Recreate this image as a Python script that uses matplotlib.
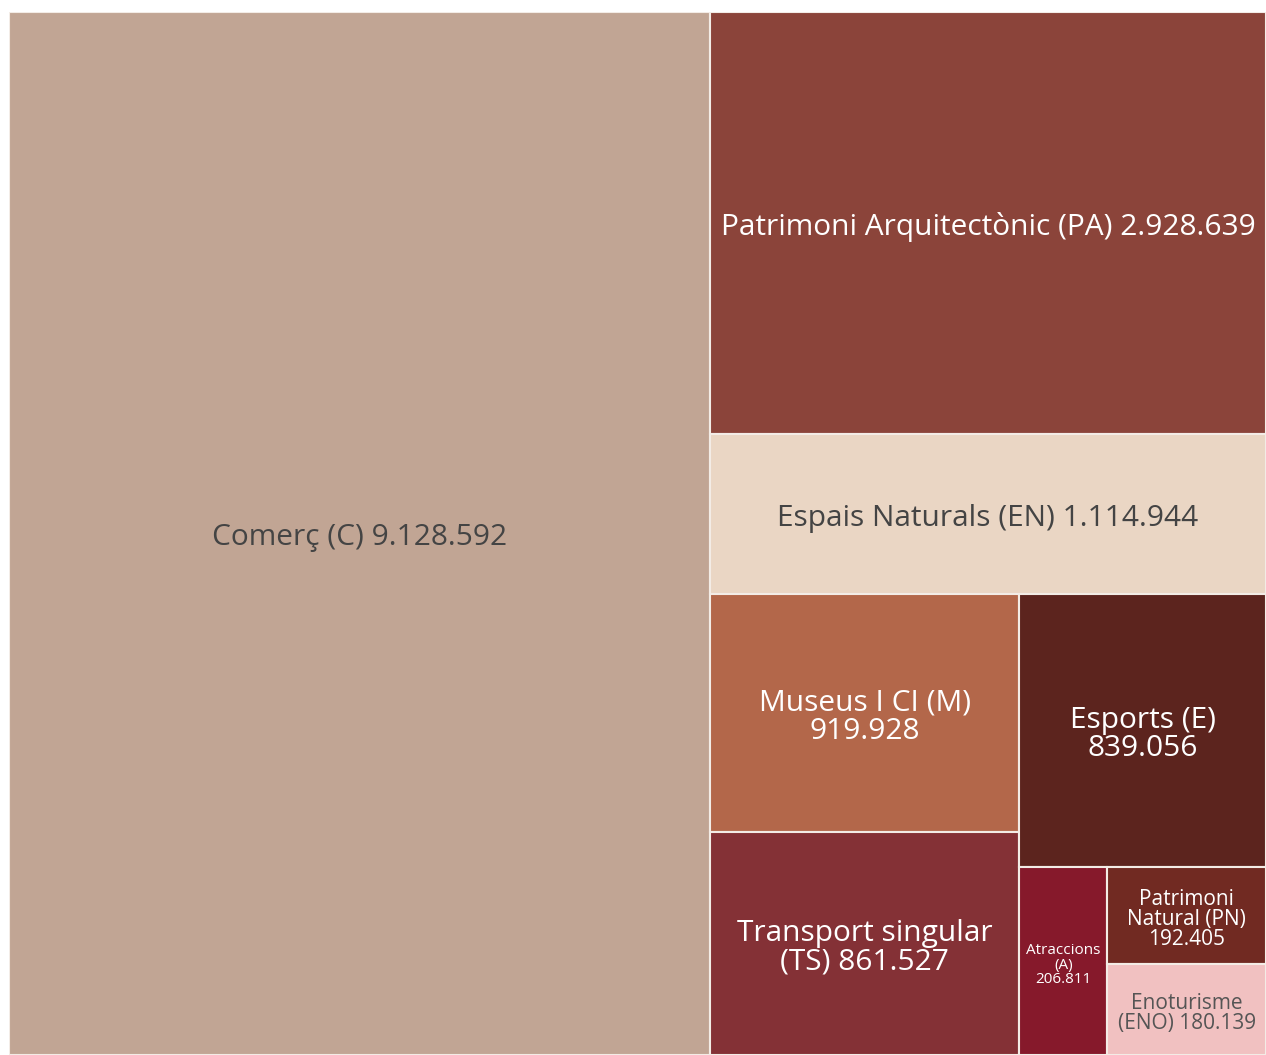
import matplotlib
matplotlib.use('Agg')
import matplotlib.pyplot as plt
from matplotlib.patches import Rectangle

plt.rcParams['font.family'] = ['Open Sans', 'DejaVu Sans']

names = ['Comerç (C)', 'Patrimoni Arquitectònic (PA)', 'Espais Naturals (EN)',
         'Museus I CI (M)', 'Transport singular (TS)', 'Esports (E)',
         'Atraccions (A)', 'Patrimoni Natural (PN)', 'Enoturisme (ENO)']
values = [9128592, 2928639, 1114944, 919928, 861527, 839056, 206811, 192405, 180139]
labels = ['Comerç (C) 9.128.592', 'Patrimoni Arquitectònic (PA) 2.928.639',
          'Espais Naturals (EN) 1.114.944', 'Museus I CI (M)\n919.928',
          'Transport singular\n(TS) 861.527', 'Esports (E)\n839.056',
          'Atraccions\n(A)\n206.811', 'Patrimoni\nNatural (PN)\n192.405',
          'Enoturisme\n(ENO) 180.139']
colors = ['#C1A594', '#8B443A', '#EAD6C4', '#B3674A', '#843136', '#5C241E',
          '#86192B', '#712A22', '#F1C1C1']
text_colors = ['#444444', 'white', '#444444', 'white', 'white', 'white',
               'white', 'white', '#555555']
font_sizes = [21.5, 21.5, 21.5, 21.5, 21.5, 21.5, 11, 15, 15]

# nested split structure: ('h'|'v', children), leaves are indices
tree = ('h', [0, ('v', [1, 2, ('h', [('v', [3, 4]), ('v', [5, ('h', [6, ('v', [7, 8])])])])])])


def total(node):
    if isinstance(node, int):
        return values[node]
    return sum(total(c) for c in node[1])


rects = {}


def layout(node, x, y, w, h):
    if isinstance(node, int):
        rects[node] = (x, y, w, h)
        return
    d, kids = node
    s = total(node)
    pos = 0
    for k in kids:
        f = total(k) / s
        if d == 'h':
            layout(k, x + pos * w, y, f * w, h)
        else:
            layout(k, x, y + pos * h, w, f * h)
        pos += f


layout(tree, 0, 0, 1, 1)

fig = plt.figure(figsize=(12.66, 10.55), dpi=100)
ax = fig.add_axes([9 / 1266, 0, 1257 / 1266, 1043 / 1055])
ax.set_xlim(0, 1)
ax.set_ylim(1, 0)
ax.axis('off')

for i in range(len(values)):
    x, y, w, h = rects[i]
    ax.add_patch(Rectangle((x, y), w, h, facecolor=colors[i],
                           edgecolor='#F3ECE6', linewidth=1.5))
    ax.text(x + w / 2, y + h / 2 + 0.004, labels[i], ha='center', va='center',
            color=text_colors[i], fontsize=font_sizes[i], linespacing=0.95)

fig.savefig('out.png', dpi=100)
